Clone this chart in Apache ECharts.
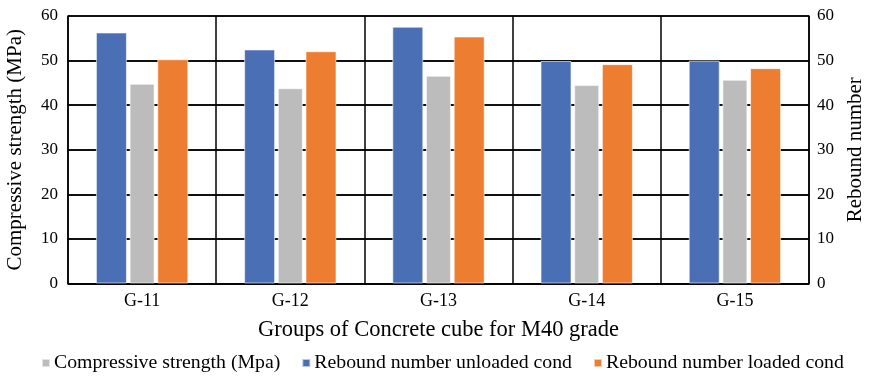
<!DOCTYPE html>
<html>
<head>
<meta charset="utf-8">
<script src="https://cdn.jsdelivr.net/npm/echarts@6/dist/echarts.min.js"></script>
<style>html,body{margin:0;padding:0;background:#fff}#c{width:870px;height:376px}</style>
</head>
<body>
<div id="c"></div>
<script>
var categories = ['G-11', 'G-12', 'G-13', 'G-14', 'G-15'];
var compressiveStrength = [44.8, 43.8, 46.6, 44.5, 45.7];
var reboundUnloaded = [56.3, 52.5, 57.6, 49.9, 50.0];
var reboundLoaded = [50.3, 52.1, 55.4, 49.2, 48.3];
var yTicks = [0, 10, 20, 30, 40, 50, 60];
var seriesNames = ['Compressive strength (Mpa)', 'Rebound number unloaded cond', 'Rebound number loaded cond'];

var FONT = '"Liberation Serif", "Times New Roman", serif';
var chart = echarts.init(document.getElementById('c'), null, {renderer: 'canvas'});
var yAxisBase = {
  type: 'value', min: yTicks[0], max: yTicks[yTicks.length - 1], interval: 10,
  axisLine: {show: true, lineStyle: {color: '#000', width: 1.5}},
  axisTick: {show: false},
  splitLine: {show: true, lineStyle: {color: '#000', width: 1.5}},
  axisLabel: {color: '#000', fontFamily: FONT, fontSize: 17},
  nameLocation: 'middle',
  nameTextStyle: {color: '#000', fontFamily: FONT, fontSize: 21}
};
chart.setOption({
  animation: false,
  backgroundColor: '#fff',
  grid: {left: 68, right: 61, top: 16, bottom: 92.5, containLabel: false, outerBoundsMode: 'none'},
  legend: {
    data: seriesNames,
    left: 36, top: 348,
    itemWidth: 8, itemHeight: 8, itemGap: 21,
    icon: 'rect',
    textStyle: {color: '#000', fontFamily: FONT, fontSize: 19.8, padding: [0, 0, 0, -1]}
  },
  xAxis: [
    {
      type: 'category', data: categories,
      axisLine: {show: true, lineStyle: {color: '#000', width: 1.5}},
      axisTick: {show: false},
      axisLabel: {color: '#000', fontFamily: FONT, fontSize: 18, margin: 9},
      splitLine: {show: true, interval: 0, lineStyle: {color: '#000', width: 1.5}},
      name: 'Groups of Concrete cube for M40 grade',
      nameLocation: 'middle', nameGap: 35,
      nameTextStyle: {color: '#000', fontFamily: FONT, fontSize: 22.5}
    },
    {
      type: 'category', data: categories, show: false
    }
  ],
  yAxis: [
    Object.assign({}, yAxisBase, {position: 'left', name: 'Compressive strength (MPa)', nameGap: 42,
      axisLabel: Object.assign({}, yAxisBase.axisLabel, {margin: 10})}),
    Object.assign({}, yAxisBase, {position: 'right', name: 'Rebound number', nameGap: 34, nameRotate: 90,
      axisLabel: Object.assign({}, yAxisBase.axisLabel, {margin: 8})})
  ],
  series: [
    {
      name: seriesNames[0], type: 'bar', xAxisIndex: 0, yAxisIndex: 0,
      data: compressiveStrength, barWidth: 25,
      itemStyle: {color: '#BCBCBC', borderColor: 'rgba(255,255,255,0.6)', borderWidth: 1}
    },
    {
      name: seriesNames[1], type: 'bar', xAxisIndex: 1, yAxisIndex: 1,
      data: reboundUnloaded, barWidth: 31, barGap: '98%',
      itemStyle: {color: '#4A6FB5', borderColor: 'rgba(255,255,255,0.6)', borderWidth: 1}
    },
    {
      name: seriesNames[2], type: 'bar', xAxisIndex: 1, yAxisIndex: 1,
      data: reboundLoaded, barWidth: 31, barGap: '98%',
      itemStyle: {color: '#ED7D31', borderColor: 'rgba(255,255,255,0.6)', borderWidth: 1}
    }
  ]
});
</script>
</body>
</html>
